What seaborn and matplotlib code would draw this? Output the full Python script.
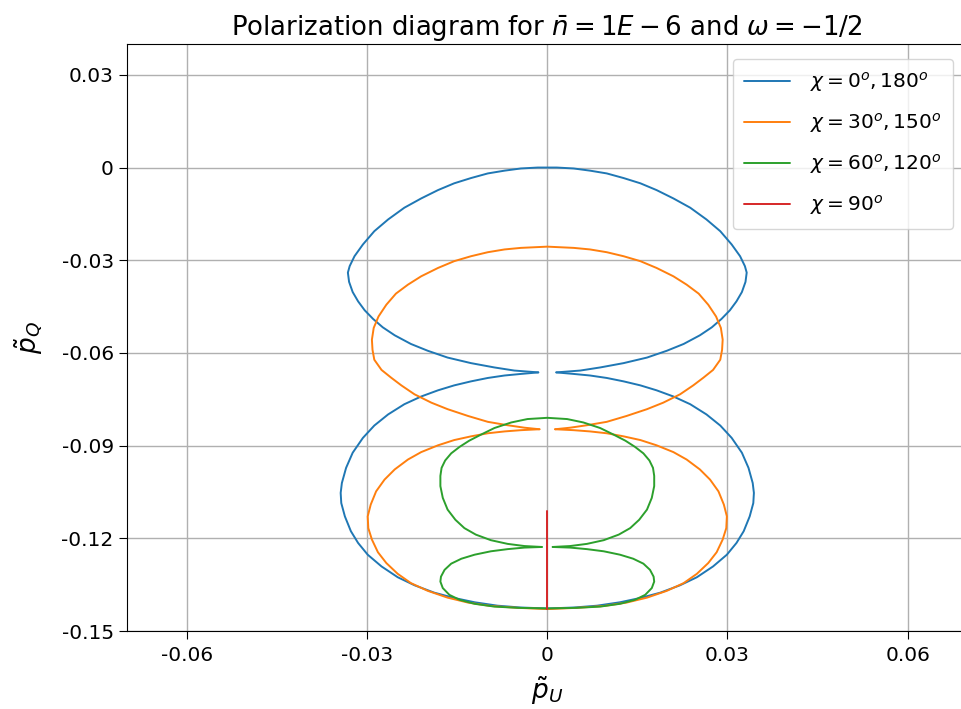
import numpy as np
import pandas as pd
import matplotlib
matplotlib.use("Agg")
import matplotlib.pyplot as plt
import seaborn as sns

labels = [r"$\chi = 0^o, 180^o$", r"$\chi = 30^o, 150^o$",
          r"$\chi = 60^o, 120^o$", r"$\chi = 90^o$"]
colors = ["#1f77b4", "#ff7f0e", "#2ca02c", "#d62728"]

# right half of each lobe, from the axis (pU = 0) out to the cusp
blue_top_u = [0.0, 0.0016, 0.0044, 0.0071, 0.0099, 0.0127, 0.0155, 0.0182, 0.0210, 0.0238,
              0.0265, 0.0288, 0.0307, 0.0321, 0.0329, 0.0332, 0.0330, 0.0324, 0.0315, 0.0304,
              0.0290, 0.0274, 0.0254, 0.0227, 0.0199, 0.0166, 0.0127, 0.0088, 0.0055, 0.0015]
blue_top_q = [0.0, 0.0, -0.0003, -0.0010, -0.0019, -0.0034, -0.0051, -0.0073, -0.0100, -0.0130,
              -0.0168, -0.0206, -0.0249, -0.0287, -0.0319, -0.0340, -0.0370, -0.0403, -0.0433, -0.0462,
              -0.0490, -0.0517, -0.0543, -0.0571, -0.0593, -0.0615, -0.0633, -0.0647, -0.0657, -0.0663]
blue_bot_u = [0.0, 0.0044, 0.0083, 0.0121, 0.0155, 0.0188, 0.0221, 0.0249, 0.0276, 0.0299,
              0.0315, 0.0327, 0.0337, 0.0343, 0.0344, 0.0342, 0.0335, 0.0324, 0.0307, 0.0288,
              0.0265, 0.0238, 0.0210, 0.0182, 0.0155, 0.0127, 0.0099, 0.0071, 0.0044, 0.0015]
blue_bot_q = [-0.1427, -0.1424, -0.1418, -0.1407, -0.1393, -0.1376, -0.1352, -0.1326, -0.1291, -0.1253,
              -0.1215, -0.1177, -0.1129, -0.1086, -0.1053, -0.1021, -0.0972, -0.0923, -0.0875, -0.0835,
              -0.0799, -0.0766, -0.0741, -0.0721, -0.0705, -0.0692, -0.0681, -0.0673, -0.0668, -0.0663]

orange_top_u = [0.0, 0.0044, 0.0071, 0.0099, 0.0127, 0.0155, 0.0182, 0.0210, 0.0232, 0.0252,
                0.0268, 0.0281, 0.0289, 0.0292, 0.0291, 0.0288, 0.0276, 0.0260, 0.0243, 0.0221,
                0.0193, 0.0166, 0.0132, 0.0099, 0.0066, 0.0038, 0.0013]
orange_top_q = [-0.0256, -0.0260, -0.0265, -0.0274, -0.0287, -0.0303, -0.0325, -0.0352, -0.0379, -0.0408,
                -0.0444, -0.0482, -0.0519, -0.0557, -0.0590, -0.0622, -0.0655, -0.0680, -0.0705, -0.0734,
                -0.0761, -0.0782, -0.0804, -0.0823, -0.0834, -0.0842, -0.0847]
orange_bot_u = [0.0, 0.0049, 0.0094, 0.0132, 0.0166, 0.0199, 0.0227, 0.0249, 0.0268, 0.0282,
                0.0292, 0.0298, 0.0299, 0.0294, 0.0285, 0.0271, 0.0254, 0.0232, 0.0210, 0.0182,
                0.0155, 0.0127, 0.0099, 0.0071, 0.0044, 0.0013]
orange_bot_q = [-0.1429, -0.1425, -0.1419, -0.1408, -0.1392, -0.1370, -0.1345, -0.1315, -0.1280, -0.1245,
                -0.1204, -0.1167, -0.1129, -0.1091, -0.1048, -0.1010, -0.0977, -0.0945, -0.0921, -0.0899,
                -0.0882, -0.0870, -0.0860, -0.0854, -0.0850, -0.0847]

green_top_u = [0.0, 0.0033, 0.0060, 0.0088, 0.0110, 0.0130, 0.0146, 0.0160, 0.0170, 0.0176,
               0.0178, 0.0178, 0.0174, 0.0166, 0.0153, 0.0138, 0.0119, 0.0094, 0.0066, 0.0038, 0.0009]
green_top_q = [-0.0810, -0.0814, -0.0825, -0.0843, -0.0864, -0.0884, -0.0904, -0.0925, -0.0948, -0.0972,
               -0.0998, -0.1031, -0.1069, -0.1107, -0.1140, -0.1167, -0.1188, -0.1206, -0.1218, -0.1225, -0.1228]
green_bot_u = [0.0, 0.0049, 0.0088, 0.0121, 0.0146, 0.0163, 0.0174, 0.0178, 0.0177, 0.0171,
               0.0160, 0.0143, 0.0121, 0.0094, 0.0066, 0.0038, 0.0009]
green_bot_q = [-0.1427, -0.1425, -0.1421, -0.1412, -0.1399, -0.1383, -0.1361, -0.1340, -0.1324, -0.1302,
               -0.1282, -0.1266, -0.1253, -0.1242, -0.1235, -0.1230, -0.1228]

red_u = [0.0, 0.0]
red_q = [-0.1113, -0.1428]

xticks = [-0.06, -0.03, 0, 0.03, 0.06]
xticklabels = ["-0.06", "-0.03", "0", "0.03", "0.06"]
yticks = [0.03, 0, -0.03, -0.06, -0.09, -0.12, -0.15]
yticklabels = ["0.03", "0", "-0.03", "-0.06", "-0.09", "-0.12", "-0.15"]


def lobe(u, q):
    # curve is symmetric about pU = 0: left half is the mirror of the right half
    u = np.asarray(u)
    q = np.asarray(q)
    return np.concatenate([-u[::-1], u[1:]]), np.concatenate([q[::-1], q[1:]])


pieces = [
    (labels[0], lobe(blue_top_u, blue_top_q)),
    (labels[0], lobe(blue_bot_u, blue_bot_q)),
    (labels[1], lobe(orange_top_u, orange_top_q)),
    (labels[1], lobe(orange_bot_u, orange_bot_q)),
    (labels[2], lobe(green_top_u, green_top_q)),
    (labels[2], lobe(green_bot_u, green_bot_q)),
    (labels[3], (np.array(red_u), np.array(red_q))),
]

frames = []
for i, (lab, (u, q)) in enumerate(pieces):
    frames.append(pd.DataFrame({"pu": u, "pq": q, "chi": lab, "seg": i}))
df = pd.concat(frames, ignore_index=True)

sns.set_style("ticks")
plt.rcParams["font.family"] = ["DejaVu Sans"]
plt.rcParams.update({"text.color": "black", "axes.labelcolor": "black",
                     "xtick.color": "black", "ytick.color": "black",
                     "axes.edgecolor": "black"})

fig = plt.figure(figsize=(9.61, 7.09), dpi=100)
ax = fig.add_axes([0.132, 0.110, 0.875, 0.828])

sns.lineplot(data=df, x="pu", y="pq", hue="chi", hue_order=labels, palette=colors,
             units="seg", estimator=None, sort=False, linewidth=1.4, ax=ax)

ax.set_xlim(-0.07, 0.07)
ax.set_ylim(-0.15, 0.04)
ax.set_xticks(xticks)
ax.set_xticklabels(xticklabels)
ax.set_yticks(yticks)
ax.set_yticklabels(yticklabels)
ax.tick_params(labelsize=14.5, length=6)
ax.tick_params(axis="x", pad=5)
ax.grid(True, color="#b0b0b0", linewidth=1.0)
ax.set_axisbelow(True)

ax.set_xlabel(r"$\tilde{p}_U$", fontsize=19, labelpad=7)
ax.set_ylabel(r"$\tilde{p}_Q$", fontsize=19, labelpad=12)
ax.set_title(r"Polarization diagram for $\bar{n} = 1E-6$ and $\omega = -1/2$", fontsize=18.7)

old = ax.get_legend()
handles = old.legend_handles
texts = [t.get_text() for t in old.get_texts()]
old.remove()
ax.legend(handles, texts, loc="upper right", fontsize=14.5, labelspacing=0.85,
          handlelength=2.3, handletextpad=1.0, borderpad=0.55, borderaxespad=0.75)

fig.savefig("out.png", dpi=100)
